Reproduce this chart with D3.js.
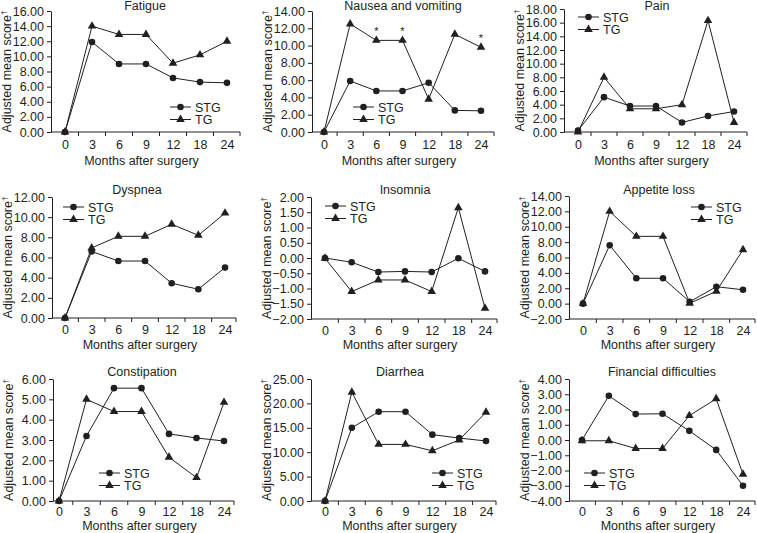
<!DOCTYPE html>
<html><head><meta charset="utf-8">
<script src="https://cdn.jsdelivr.net/npm/d3@7"></script>
<style>
body{margin:0;background:#fff;}
svg{display:block;font-family:"Liberation Sans",Arial,sans-serif;}
</style></head>
<body><svg id="c" width="757" height="533"></svg>
<script>
// ---- data ----
const months = ["0","3","6","9","12","18","24"];
const titles = ["Fatigue","Nausea and vomiting","Pain","Dyspnea","Insomnia","Appetite loss","Constipation","Diarrhea","Financial difficulties"];
const stgFatigue = [0, 11.9, 9.0, 9.0, 7.15, 6.6, 6.5];
const tgFatigue  = [0, 14.0, 12.9, 12.9, 9.1, 10.2, 12.0];
const stgNausea  = [0, 5.9, 4.75, 4.75, 5.7, 2.5, 2.45];
const tgNausea   = [0, 12.5, 10.6, 10.6, 3.8, 11.3, 9.8];
const stgPain    = [0.2, 5.1, 3.8, 3.8, 1.4, 2.35, 3.0];
const tgPain     = [0, 8.0, 3.4, 3.4, 4.0, 16.3, 1.4];
const stgDyspnea = [0, 6.6, 5.65, 5.65, 3.45, 2.85, 5.0];
const tgDyspnea  = [0, 6.95, 8.1, 8.1, 9.3, 8.2, 10.4];
const stgInsomnia= [0, -0.14, -0.46, -0.44, -0.46, -0.01, -0.44];
const tgInsomnia = [-0.01, -1.1, -0.72, -0.72, -1.1, 1.65, -1.65];
const stgAppetite= [0, 7.6, 3.3, 3.3, 0.25, 2.2, 1.8];
const tgAppetite = [0, 12.0, 8.75, 8.75, 0.05, 1.6, 7.0];
const stgConstip = [0, 3.2, 5.55, 5.55, 3.3, 3.1, 2.95];
const tgConstip  = [0, 5.0, 4.4, 4.4, 2.15, 1.15, 4.85];
const stgDiarrhea= [0, 15.0, 18.3, 18.3, 13.6, 12.9, 12.3];
const tgDiarrhea = [0, 22.3, 11.6, 11.6, 10.3, 12.5, 18.2];
const stgFinance = [0, 2.9, 1.7, 1.72, 0.6, -0.65, -3.0];
const tgFinance  = [-0.05, -0.05, -0.56, -0.56, 1.6, 2.7, -2.25];
const stgSeries = [stgFatigue, stgNausea, stgPain, stgDyspnea, stgInsomnia, stgAppetite, stgConstip, stgDiarrhea, stgFinance];
const tgSeries  = [tgFatigue, tgNausea, tgPain, tgDyspnea, tgInsomnia, tgAppetite, tgConstip, tgDiarrhea, tgFinance];
// y axis: [min, max, step]
const yTickSpecs = [[0,16,2],[0,14,2],[0,18,2],[0,12,2],[-2,2,0.5],[-2,14,2],[0,6,1],[0,25,5],[-4,4,1]];
const starMonths = [[],["6","9","24"],[],[],[],[],[],[],[]];
const seriesNames = ["STG","TG"];
const xTitle = "Months after surgery";
const yTitle = "Adjusted mean score";

// ---- layout ----
const layout = [
  {ax:51, x0:65, x6:227, r:240, top:11, bot:132, tx:145, ty:9.5, lx:170, ly:107, xo:32.5, tp:8.5},
  {ax:312, x0:324, x6:481, r:494, top:11, bot:132, tx:403, ty:9.5, lx:353, ly:107, xo:32.5, tp:8.5},
  {ax:564, x0:578, x6:734, r:747, top:9, bot:132, tx:657, ty:9.5, lx:578, ly:17, xo:32.5, tp:8.5},
  {ax:52, x0:65, x6:225, r:236, top:197, bot:318, tx:137, ty:193.5, lx:63, ly:207, xo:30.5, tp:7.5},
  {ax:311, x0:325, x6:485, r:497, top:197, bot:319, tx:405, ty:193.5, lx:325, ly:206, xo:30, tp:7.5},
  {ax:569, x0:583, x6:743, r:755, top:196, bot:319, tx:659, ty:193.5, lx:691, ly:207, xo:30, tp:7.5},
  {ax:53, x0:59, x6:224, r:234, top:379, bot:501, tx:142, ty:376, lx:99, ly:473, xo:29, tp:6},
  {ax:311, x0:325, x6:486, r:496, top:379, bot:501, tx:400, ty:376, lx:432, ly:473, xo:29, tp:6},
  {ax:569, x0:582, x6:743, r:755, top:379, bot:501, tx:662, ty:376, lx:584, ly:473, xo:29, tp:6}
];
const ink = "#231f20";
const fs = 12.5;
const svg = d3.select("#c");
const tri = d3.symbol().type(d3.symbolTriangle).size(32);

layout.forEach((L, i) => {
  const g = svg.append("g");
  const [ymin, ymax, ystep] = yTickSpecs[i];
  const x = d3.scalePoint().domain(months).range([L.x0, L.x6]);
  const y = d3.scaleLinear().domain([ymin, ymax]).range([L.bot, L.top]);
  const step = x.step();

  // y axis
  const yt = d3.range(ymin, ymax + ystep/2, ystep);
  const yAxis = d3.axisLeft(y).tickValues(yt).tickFormat(d3.format(".2f")).tickSize(4).tickSizeOuter(0).tickPadding(3);
  const ya = g.append("g").attr("transform", `translate(${L.ax},0)`).call(yAxis);
  ya.selectAll("text").attr("font-size", fs).attr("fill", ink).attr("font-family", "Liberation Sans, Arial, sans-serif");
  ya.selectAll("line,path").attr("stroke", ink);

  // x axis
  const xAxis = d3.axisBottom(x).tickSize(0).tickPadding(L.tp);
  const xa = g.append("g").attr("transform", `translate(0,${L.bot})`).call(xAxis);
  xa.select(".domain").remove();
  xa.selectAll("text").attr("font-size", fs).attr("fill", ink).attr("font-family", "Liberation Sans, Arial, sans-serif");
  g.append("line").attr("x1", L.ax).attr("x2", L.r).attr("y1", L.bot).attr("y2", L.bot).attr("stroke", ink);
  const bounds = months.slice(0, -1).map(m => x(m) + step/2).concat([L.r]);
  g.selectAll(".xt").data(bounds).join("line")
    .attr("x1", d => d).attr("x2", d => d).attr("y1", L.bot).attr("y2", L.bot + 4).attr("stroke", ink);

  // titles
  g.append("text").attr("x", L.tx).attr("y", L.ty).attr("text-anchor", "middle").attr("font-size", fs).attr("fill", ink).text(titles[i]);
  g.append("text").attr("x", (L.ax + L.r)/2 - 4).attr("y", L.bot + L.xo).attr("text-anchor", "middle").attr("font-size", fs).attr("fill", ink).text(xTitle);
  const yc = (L.top + L.bot)/2;
  const yl = g.append("text").attr("transform", `translate(${L.ax - 40},${yc}) rotate(-90)`).attr("text-anchor", "middle").attr("font-size", fs).attr("fill", ink);
  yl.append("tspan").text(yTitle);
  yl.append("tspan").attr("font-size", 8).attr("dy", -5).text("\u2020");

  // lines
  const line = d3.line().x((d, j) => x(months[j])).y(d => y(d));
  [stgSeries[i], tgSeries[i]].forEach(s => {
    g.append("path").attr("d", line(s)).attr("fill", "none").attr("stroke", ink).attr("stroke-width", 1);
  });
  g.selectAll(".c").data(stgSeries[i]).join("circle")
    .attr("cx", (d, j) => x(months[j])).attr("cy", d => y(d)).attr("r", 3.3).attr("fill", ink);
  g.selectAll(".t").data(tgSeries[i]).join("path")
    .attr("d", tri).attr("transform", (d, j) => `translate(${x(months[j])},${y(d)})`).attr("fill", ink);

  // stars
  starMonths[i].forEach(m => {
    const j = months.indexOf(m);
    g.append("text").attr("x", x(m)).attr("y", y(tgSeries[i][j]) - 5).attr("text-anchor", "middle").attr("font-size", 11).attr("fill", ink).text("*");
  });

  // legend
  seriesNames.forEach((n, k) => {
    const ly = L.ly + k * 12.5;
    g.append("line").attr("x1", L.lx).attr("x2", L.lx + 21).attr("y1", ly).attr("y2", ly).attr("stroke", ink);
    if (k === 0) g.append("circle").attr("cx", L.lx + 10.5).attr("cy", ly).attr("r", 3.3).attr("fill", ink);
    else g.append("path").attr("d", tri).attr("transform", `translate(${L.lx + 10.5},${ly})`).attr("fill", ink);
    g.append("text").attr("x", L.lx + 25).attr("y", ly + 4.5).attr("font-size", fs).attr("fill", ink).text(n);
  });
});
</script></body></html>
